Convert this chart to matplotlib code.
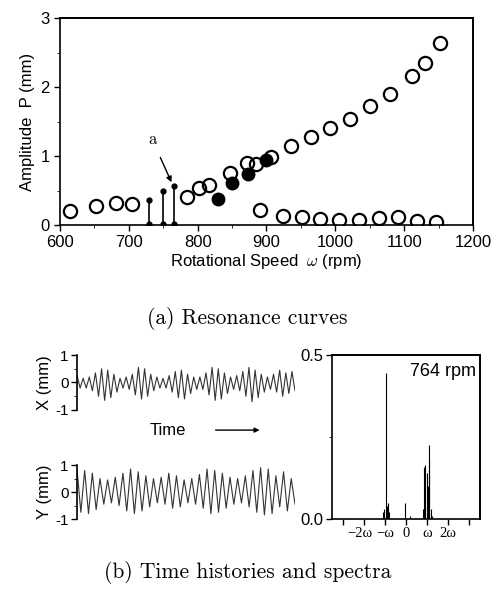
import matplotlib

matplotlib.use("Agg")
import matplotlib.pyplot as plt
from matplotlib.patches import FancyArrowPatch
from matplotlib.transforms import ScaledTranslation
import numpy as np

# (a) resonance curves
open_speed = [614, 653, 681, 705, 785, 802, 817, 847, 871, 885, 907, 936, 964, 993,
              1022, 1051, 1079, 1111, 1130, 1152,
              890, 924, 951, 978, 1006, 1034, 1063, 1091, 1118, 1147]
open_amp = [0.21, 0.28, 0.32, 0.30, 0.40, 0.53, 0.58, 0.75, 0.90, 0.89, 0.99, 1.14, 1.28, 1.40,
            1.54, 1.73, 1.90, 2.16, 2.35, 2.64,
            0.22, 0.13, 0.11, 0.09, 0.07, 0.07, 0.10, 0.11, 0.06, 0.05]
filled_speed = [830, 850, 873, 900]
filled_amp = [0.38, 0.61, 0.74, 0.94]
stem_speed = [729, 749, 765]
stem_amp = [0.36, 0.49, 0.57]

# (b) time histories: successive peak / trough values
x_max = [0.25, 0.15, 0.20, 0.35, 0.50, 0.45, 0.30, 0.15, 0.20, 0.30, 0.55, 0.50,
         0.30, 0.20, 0.15, 0.25, 0.40, 0.45, 0.30, 0.20, 0.20, 0.35, 0.55, 0.50,
         0.35, 0.20, 0.25, 0.40, 0.55, 0.45, 0.30, 0.20, 0.30, 0.45, 0.35, 0.40]
x_min = [-0.20, -0.20, -0.30, -0.50, -0.65, -0.55, -0.35, -0.20, -0.25, -0.45, -0.60, -0.50,
         -0.30, -0.20, -0.20, -0.35, -0.55, -0.60, -0.40, -0.25, -0.25, -0.45, -0.65, -0.60,
         -0.40, -0.25, -0.30, -0.50, -0.70, -0.55, -0.35, -0.25, -0.35, -0.50, -0.40, -0.30]
y_max = [0.85, 0.80, 0.70, 0.50, 0.45, 0.55, 0.70, 0.85, 0.75, 0.60, 0.50, 0.55, 0.70, 0.60,
         0.45, 0.50, 0.65, 0.85, 0.80, 0.70, 0.55, 0.50, 0.60, 0.80, 0.90, 0.85, 0.60, 0.75, 0.50]
y_min = [-0.75, -0.80, -0.65, -0.45, -0.40, -0.50, -0.70, -0.80, -0.70, -0.55, -0.40, -0.45,
         -0.60, -0.55, -0.40, -0.45, -0.60, -0.80, -0.75, -0.60, -0.45, -0.40, -0.55, -0.75,
         -0.85, -0.80, -0.55, -0.70, -0.45]

# spectrum at 764 rpm (frequency in units of omega)
spec_freq = [-1.10, -1.02, -0.95, -0.90, -0.85, -0.80, -0.03, 0.20,
             0.80, 0.84, 0.92, 1.00, 1.04, 1.08, 1.11, 1.18, 1.25]
spec_amp = [0.02, 0.03, 0.444, 0.04, 0.05, 0.02, 0.048, 0.01,
            0.03, 0.16, 0.165, 0.14, 0.10, 0.225, 0.18, 0.03, 0.01]
spec_ticks = [-3, -2, -1, 0, 1, 2, 3]
spec_ticklabels = ["", "\u22122\u03c9", "\u2212\u03c9", "0", "\u03c9", "2\u03c9", ""]

plt.rcParams.update({
    "font.family": ["Liberation Sans", "DejaVu Sans"],
    "font.size": 12,
    "mathtext.fontset": "cm",
    "xtick.direction": "out",
    "ytick.direction": "out",
    "axes.spines.top": True,
    "axes.spines.right": True,
})


def box(a):
    for s in a.spines.values():
        s.set_visible(True)
        s.set_linewidth(1.2)
    # explicit top / right edges
    a.plot([0, 1, 1], [1, 1, 0], transform=a.transAxes, color="black", lw=1.3,
           clip_on=False, zorder=6, solid_capstyle="projecting")


fig = plt.figure(figsize=(4.95, 5.9), dpi=100)

# --- (a) ---
ax = fig.add_axes([0.1212, 0.6186, 0.8343, 0.3508])
ax.vlines(stem_speed, 0, stem_amp, color="black", lw=1.2)
ax.plot(stem_speed, stem_amp, "o", color="black", ms=3.5)
ax.plot(stem_speed, [0.02] * 3, "o", color="black", ms=3.5)
ax.plot(open_speed, open_amp, "o", mfc="none", mec="black", mew=1.6, ms=9.5)
ax.plot(filled_speed, filled_amp, "o", color="black", ms=9)
ax.set_xlim(600, 1200)
ax.set_ylim(0, 3)
ax.set_xticks(np.arange(600, 1201, 100))
ax.set_xticks(np.arange(650, 1200, 100), minor=True)
ax.set_yticks([0, 1, 2, 3])
ax.set_yticks([0.5, 1.5, 2.5], minor=True)
ax.tick_params(labelsize=12, length=4, width=1)
ax.tick_params(which="minor", length=2.5)
box(ax)
ax.set_xlabel(r"Rotational Speed  $\omega$ (rpm)", fontsize=12, labelpad=1)
ax.set_ylabel("Amplitude  P (mm)", fontsize=12, labelpad=4)
ax.annotate("a", xy=(762, 0.62), xytext=(734, 1.24), fontsize=12, family="cmr10",
            ha="center", va="center",
            arrowprops=dict(arrowstyle="-|>", color="black", lw=1, shrinkA=6, shrinkB=0,
                            mutation_scale=8))

fig.text(0.5, 0.461, "(a) Resonance curves", ha="center", va="center",
         family="cmr10", fontsize=15.5)

# --- (b) time histories ---
def zigzag(peaks, troughs):
    vals = []
    for p, t in zip(peaks, troughs):
        vals += [p, t]
    return np.array(vals)

xs = zigzag(x_max, x_min)
ys = zigzag(y_max, y_min)

for rect, sig, lab in [([0.1556, 0.3051, 0.4404, 0.0932], xs, "X (mm)"),
                       ([0.1556, 0.1203, 0.4404, 0.0915], ys, "Y (mm)")]:
    a = fig.add_axes(rect)
    a.plot(np.arange(len(sig)), sig, color="#333333", lw=0.8)
    a.set_xlim(0, len(sig) - 1)
    a.set_ylim(-1, 1)
    for side in ["top", "right", "bottom"]:
        a.spines[side].set_visible(False)
    a.spines["left"].set_visible(True)
    a.spines["left"].set_linewidth(1.2)
    a.set_xticks([])
    a.set_yticks([-1, 0, 1])
    a.set_yticklabels(["-1", "0", "1"])
    a.set_yticks([-0.5, 0.5], minor=True)
    a.tick_params(labelsize=11, length=4, width=1, pad=2)
    a.tick_params(which="minor", length=2.5)
    a.set_ylabel(lab, fontsize=12, labelpad=2)

fig.text(0.34, 0.271, "Time", ha="center", va="center", fontsize=12)
fig.add_artist(FancyArrowPatch((0.43, 0.271), (0.53, 0.271),
               transform=fig.transFigure, arrowstyle="-|>", mutation_scale=7,
               color="black", lw=1))

# --- (b) spectrum ---
sp = fig.add_axes([0.6707, 0.1203, 0.299, 0.278])
sp.vlines(spec_freq, 0, spec_amp, color="black", lw=0.8)
sp.set_xlim(-3.5, 3.5)
sp.set_ylim(0, 0.5)
sp.set_xticks(spec_ticks)
sp.set_xticklabels(spec_ticklabels, family="Liberation Serif")
sp.set_yticks([0, 0.5])
sp.set_yticklabels(["0.0", "0.5"])
sp.set_yticks([0.25], minor=True)
sp.tick_params(axis="y", labelsize=12, length=4, width=1, pad=2)
sp.tick_params(axis="x", labelsize=10.5, length=4, width=1, pad=2)
sp.tick_params(which="minor", length=2.5)
lbl = sp.get_xticklabels()[1]
lbl.set_transform(lbl.get_transform() + ScaledTranslation(-3 / 72, 0, fig.dpi_scale_trans))
box(sp)
sp.text(0.97, 0.95, "764 rpm", transform=sp.transAxes, ha="right", va="top", fontsize=13)

fig.text(0.5, 0.029, "(b) Time histories and spectra", ha="center", va="center",
         family="cmr10", fontsize=15.5)

fig.savefig("out.png", dpi=100)
